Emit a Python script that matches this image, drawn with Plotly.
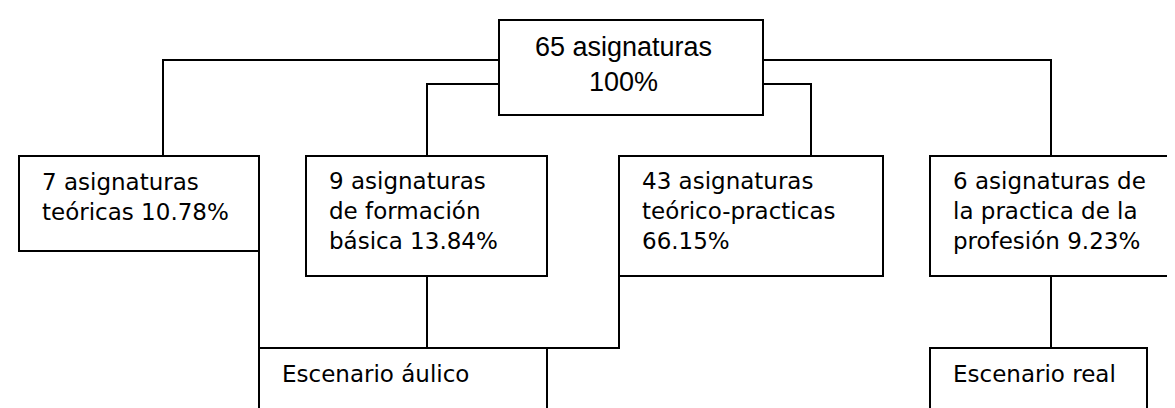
import plotly.graph_objects as go

# ---- data ----
total_count = 65
total_pct = "100%"
group_counts = [7, 9, 43, 6]
group_pcts = ["10.78%", "13.84%", "66.15%", "9.23%"]
group_lines = [
    [f"{group_counts[0]} asignaturas", f"teóricas {group_pcts[0]}"],
    [f"{group_counts[1]} asignaturas", "de formación", f"básica {group_pcts[1]}"],
    [f"{group_counts[2]} asignaturas", "teórico-practicas", group_pcts[2]],
    [f"{group_counts[3]} asignaturas de", "la practica de la", f"profesión {group_pcts[3]}"],
]
scenario_labels = ["Escenario áulico", "Escenario real"]

# ---- layout (pixel coordinates, y downward) ----
W, H = 1175, 408
top_box = (491, 755, 12, 107)
group_boxes = [(11, 251, 148, 243), (298, 539, 148, 268),
               (611, 875, 148, 268), (922, 1173, 148, 268)]
scen_boxes = [(251, 539, 340, 420), (922, 1139, 340, 420)]

LINE = dict(color="black", width=2)
shapes = []

def rect(b):
    x0, x1, y0, y1 = b
    shapes.append(dict(type="rect", xref="x", yref="y", x0=x0, x1=x1, y0=y0, y1=y1,
                       line=LINE, fillcolor="white", layer="above"))

def path(pts):
    d = "M " + " L ".join(f"{x},{y}" for x, y in pts)
    shapes.append(dict(type="path", xref="x", yref="y", path=d, line=LINE, layer="above"))

# connectors
path([(491, 52), (155, 52), (155, 148)])
path([(491, 76), (419, 76), (419, 148)])
path([(755, 52), (1043, 52), (1043, 148)])
path([(755, 76), (803, 76), (803, 148)])
path([(251, 243), (251, 340)])
path([(419, 268), (419, 340)])
path([(611, 268), (611, 340), (539, 340)])
path([(1043, 268), (1043, 340)])

rect(top_box)
for b in group_boxes:
    rect(b)
for b in scen_boxes:
    rect(b)

annotations = []
BODY_FONT = dict(family="DejaVu Sans", size=23, color="black")

# top box text
annotations.append(dict(
    x=615, y=56, xref="x", yref="y", xanchor="center", yanchor="middle",
    text=f"{total_count} asignaturas<br>{total_pct}", showarrow=False, align="center",
    font=dict(family="Liberation Sans, Arial", size=27, color="black")))

for b, lines in zip(group_boxes, group_lines):
    x0, x1, y0, y1 = b
    n = len(lines)
    yc = 175 + (n - 1) * 28 / 2
    annotations.append(dict(
        x=x0 + 21, y=yc, xref="x", yref="y", xanchor="left", yanchor="middle",
        text="<br>".join(lines), showarrow=False, align="left", font=BODY_FONT))

for b, lab in zip(scen_boxes, scenario_labels):
    x0 = b[0]
    annotations.append(dict(
        x=x0 + 21, y=366, xref="x", yref="y", xanchor="left", yanchor="middle",
        text=lab, showarrow=False, align="left", font=BODY_FONT))

fig = go.Figure()
fig.add_trace(go.Scatter(x=[0, W], y=[0, H], mode="markers",
                         marker=dict(opacity=0), hoverinfo="skip", showlegend=False))
fig.update_layout(
    width=W, height=H, margin=dict(l=0, r=0, t=0, b=0),
    paper_bgcolor="white", plot_bgcolor="white",
    xaxis=dict(range=[0, W], visible=False, fixedrange=True),
    yaxis=dict(range=[H, 0], visible=False, fixedrange=True),
    shapes=shapes, annotations=annotations, showlegend=False,
)
fig.write_html("out.html")
